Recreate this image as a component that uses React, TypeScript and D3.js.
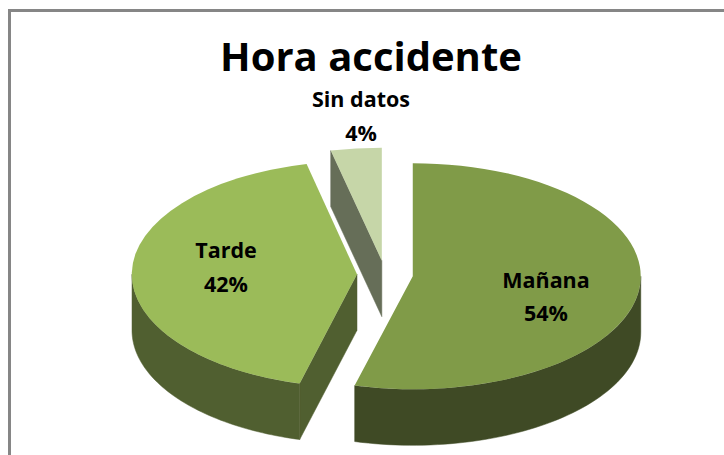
import React from "react";
import * as d3 from "d3";

// data
const categories = ["Mañana", "Tarde", "Sin datos"];
const shares = [54.1, 42.3, 3.6];
const topColors = ["#809b48", "#9bbb59", "#c6d6a8"];
const sideColors = ["#3f4a25", "#505f30", "#666e58"];

// layout
const width = 724;
const height = 455;
const cx = 385;
const cy = 274.5;
const rx = 228;
const rxLeft = 225; // perspective makes the far left of the pie a bit shorter
const ry = 113;
const depth = 56;
const explode = 28;
const labelSpots = [
  { x: 546, y: 288, gap: 33 },
  { x: 226, y: 258, gap: 34 },
  { x: 361, y: 107, gap: 34 },
];
const labelSize = 21.5;
const font = "'Open Sans', sans-serif";
const HALF = Math.PI;
const QUARTER = Math.PI / 2;

const py = d3.scaleLinear().domain([-1, 1]).range([-ry, ry]);

const rim = (a: number, r: number): [number, number] => [r * Math.sin(a), py(-Math.cos(a))];

const slices = d3.pie<number>().sort(null)(shares);

const faceArc = d3.arc<any>().innerRadius(0).outerRadius(1);

// outer wall between two angles, going along top edge and back along the bottom one
function wallPath(a0: number, a1: number, r: number) {
  const steps = d3.range(0, 61).map((i) => a0 + ((a1 - a0) * i) / 60);
  const pts: [number, number][] = [
    ...steps.map((a) => rim(a, r)),
    ...steps
      .slice()
      .reverse()
      .map((a): [number, number] => [rim(a, r)[0], rim(a, r)[1] + depth]),
  ];
  return d3.line()(pts) + "Z";
}

function cutPath(a: number, r: number) {
  const [x, y] = rim(a, r);
  return d3.line()([
    [0, 0],
    [x, y],
    [x, y + depth],
    [0, depth],
  ]) + "Z";
}

export default function App() {
  return (
    <svg
      width={width}
      height={height}
      style={{ position: "absolute", left: 0, top: 0, background: "#fff" }}
    >
      <rect x={9.5} y={10.5} width={width + 20} height={height + 20} fill="#fff" stroke="#868686" strokeWidth={3} />
      <text x={371} y={71} textAnchor="middle" fontFamily={font} fontWeight={700} fontSize={40} fill="#000">
        Hora accidente
      </text>
      {/* back to front so the nearer walls cover the farther ones */}
      {[2, 1, 0].map((i) => {
        const s = slices[i];
        const mid = (s.startAngle + s.endAngle) / 2;
        const r = i === 1 ? rxLeft : rx;
        const tx = cx + explode * Math.sin(mid);
        const ty = cy - (explode * Math.cos(mid) * ry) / rx;
        const from = Math.max(s.startAngle, QUARTER);
        const to = Math.min(s.endAngle, HALF + QUARTER);
        return (
          <g key={categories[i]} transform={`translate(${tx},${ty})`}>
            {s.startAngle > HALF && (
              <path d={cutPath(s.startAngle, r)} fill={sideColors[i]} stroke={sideColors[i]} strokeWidth={0.5} />
            )}
            {from < to && <path d={wallPath(from, to, r)} fill={sideColors[i]} stroke={sideColors[i]} strokeWidth={0.5} />}
            <path d={faceArc(s) as string} transform={`scale(${r},${ry})`} fill={topColors[i]} />
          </g>
        );
      })}
      {slices.map((s, i) => (
        <text
          key={categories[i]}
          textAnchor="middle"
          fontFamily={font}
          fontWeight={700}
          fontSize={labelSize}
          fill="#000"
        >
          <tspan x={labelSpots[i].x} y={labelSpots[i].y}>
            {categories[i]}
          </tspan>
          <tspan x={labelSpots[i].x} y={labelSpots[i].y + labelSpots[i].gap}>
            {Math.round(shares[i])}%
          </tspan>
        </text>
      ))}
    </svg>
  );
}
